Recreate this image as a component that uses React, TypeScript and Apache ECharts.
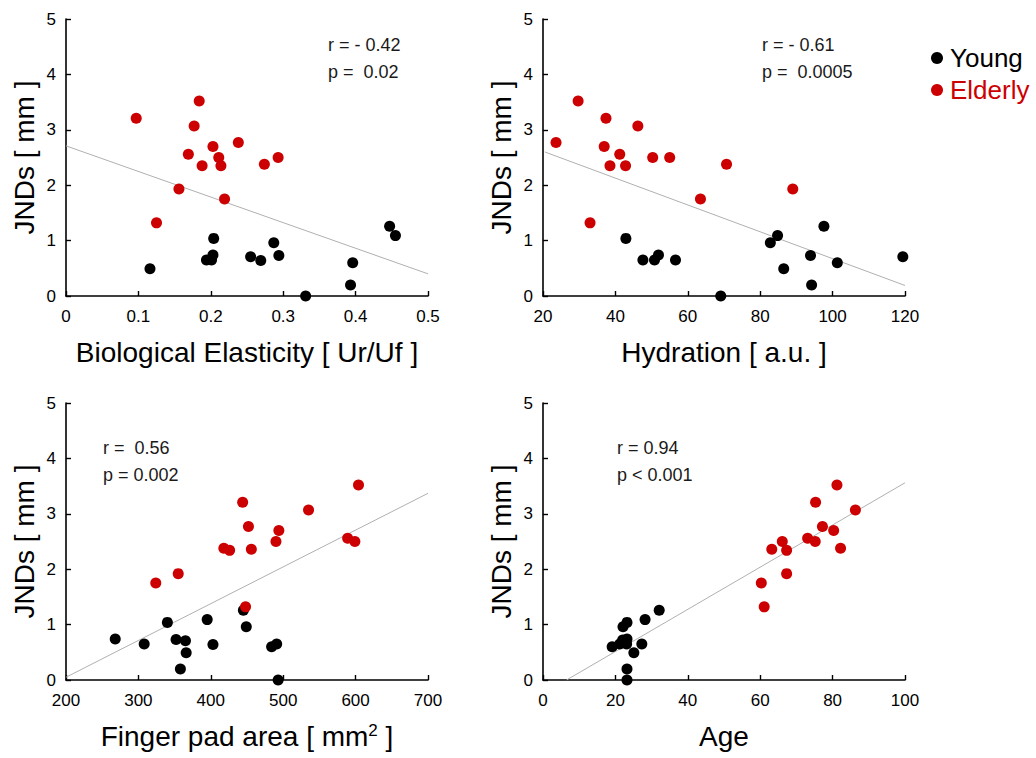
import React, { useEffect, useRef } from "react";
import * as echarts from "echarts";

const FONT = "'Liberation Sans', Helvetica, Arial, sans-serif";
const RED = "#cc0000";

// Panel 1: Biological Elasticity
const elasticityYoung = [[0.116,0.49],[0.194,0.65],[0.201,0.65],[0.203,0.74],[0.204,1.04],[0.255,0.71],[0.269,0.64],[0.287,0.96],[0.294,0.73],[0.331,0.0],[0.393,0.20],[0.396,0.60],[0.447,1.26],[0.455,1.09]];
const elasticityElderly = [[0.097,3.21],[0.184,3.52],[0.177,3.07],[0.125,1.32],[0.156,1.93],[0.169,2.56],[0.188,2.35],[0.203,2.70],[0.211,2.50],[0.214,2.35],[0.219,1.75],[0.238,2.77],[0.274,2.38],[0.293,2.50]];
const elasticityFit = [[0,2.71],[0.5,0.40]];

// Panel 2: Hydration
const hydrationYoung = [[42.9,1.04],[47.6,0.65],[50.8,0.65],[51.9,0.74],[56.6,0.65],[69.1,0.0],[82.8,0.96],[84.8,1.09],[86.5,0.49],[93.9,0.73],[94.2,0.20],[97.6,1.26],[101.3,0.60],[119.4,0.71]];
const hydrationElderly = [[23.6,2.77],[29.7,3.52],[33.0,1.32],[37.4,3.21],[36.9,2.70],[38.5,2.35],[41.2,2.56],[42.8,2.35],[46.2,3.07],[50.3,2.50],[55.0,2.50],[63.5,1.75],[70.7,2.38],[89.0,1.93]];
const hydrationFit = [[20.5,2.60],[120,0.19]];

// Panel 3: Finger pad area
const areaYoung = [[268,0.74],[308,0.65],[340,1.04],[352,0.73],[365,0.71],[366,0.49],[358,0.20],[395,1.09],[403,0.64],[445,1.26],[449,0.96],[484,0.60],[491,0.65],[493,0.0]];
const areaElderly = [[324,1.75],[355,1.92],[418,2.38],[426,2.34],[444,3.21],[452,2.77],[448,1.32],[456,2.36],[490,2.50],[494,2.70],[535,3.07],[589,2.56],[599,2.50],[604,3.52]];
const areaFit = [[200,0.05],[700,3.37]];

// Panel 4: Age
const ageYoung = [[19.1,0.60],[21.2,0.65],[22.0,0.72],[22.1,0.96],[23.2,1.04],[23.2,0.74],[23.1,0.65],[23.2,0.20],[23.2,0.0],[25.1,0.49],[27.3,0.65],[28.2,1.09],[32.1,1.26],[22.6,0.71]];
const ageElderly = [[60.3,1.75],[61.1,1.32],[63.2,2.36],[66.1,2.50],[67.3,2.34],[67.3,1.92],[73.1,2.56],[75.3,3.21],[75.2,2.50],[77.2,2.77],[80.3,2.70],[81.2,3.52],[82.2,2.38],[86.3,3.07]];
const ageFit = [[6.5,0],[100,3.56]];

const xNames = ["Biological Elasticity [ Ur/Uf ]", "Hydration [ a.u. ]", "Finger pad area [ mm{sup|2} ]", "Age"];
const xRanges = [[0, 0.5, 0.1], [20, 120, 20], [200, 700, 100], [0, 100, 20]];
const yName = "JNDs [ mm ]";
const statsR = ["r = - 0.42", "r = - 0.61", "r =  0.56", "r = 0.94"];
const statsP = ["p =  0.02", "p =  0.0005", "p = 0.002", "p < 0.001"];
const legendNames = ["Young", "Elderly"];

const grids = [
  { left: 66, top: 19, width: 362, height: 277 },
  { left: 543, top: 19, width: 362, height: 277 },
  { left: 66, top: 403, width: 362, height: 277 },
  { left: 543, top: 403, width: 362, height: 277 },
];
const statPos = [[328, 46], [762, 46], [103, 449], [617, 449]];

export default function App() {
  const ref = useRef<HTMLDivElement>(null);
  useEffect(() => {
    if (!ref.current) return;
    const chart = echarts.init(ref.current, null, { renderer: "svg" });
    const young = [elasticityYoung, hydrationYoung, areaYoung, ageYoung];
    const elderly = [elasticityElderly, hydrationElderly, areaElderly, ageElderly];
    const fits = [elasticityFit, hydrationFit, areaFit, ageFit];
    const axisLine = { show: true, onZero: false, lineStyle: { color: "#000", width: 1.6 } };
    const axisTick = { show: true, inside: true, length: 5, lineStyle: { color: "#000", width: 1.4 } };
    const series: any[] = [];
    for (let i = 0; i < 4; i++) {
      series.push({
        type: "line", xAxisIndex: i, yAxisIndex: i, data: fits[i], symbol: "none",
        lineStyle: { color: "#b0b0b0", width: 1 }, silent: true, z: 1,
      });
      series.push({
        name: legendNames[0], type: "scatter", xAxisIndex: i, yAxisIndex: i, data: young[i],
        symbolSize: 11, itemStyle: { color: "#000", opacity: 1 }, z: 3, clip: false,
      });
      series.push({
        name: legendNames[1], type: "scatter", xAxisIndex: i, yAxisIndex: i, data: elderly[i],
        symbolSize: 11, itemStyle: { color: RED, opacity: 1 }, z: 3, clip: false,
      });
    }
    const graphic: any[] = [];
    for (let i = 0; i < 4; i++) {
      graphic.push({ type: "text", left: statPos[i][0], top: statPos[i][1] - 10, style: { text: statsR[i], font: `18px ${FONT}`, fill: "#1a1a1a" } });
      graphic.push({ type: "text", left: statPos[i][0], top: statPos[i][1] + 17, style: { text: statsP[i], font: `18px ${FONT}`, fill: "#1a1a1a" } });
    }
    chart.setOption({
      animation: false,
      textStyle: { fontFamily: FONT },
      grid: grids,
      legend: {
        orient: "vertical", left: 926, top: 40, itemWidth: 12, itemHeight: 12, itemGap: 6,
        icon: "circle", selectedMode: false,
        textStyle: { fontSize: 26, fontFamily: FONT, padding: [0, 0, 0, 2] },
        data: [
          { name: legendNames[0], textStyle: { color: "#000" } },
          { name: legendNames[1], textStyle: { color: RED } },
        ],
      },
      xAxis: xRanges.map((r, i) => ({
        type: "value", gridIndex: i, min: r[0], max: r[1], interval: r[2],
        name: xNames[i], nameLocation: "middle", nameGap: 42,
        nameTextStyle: { fontSize: 28, color: "#000", fontFamily: FONT,
          rich: { sup: { fontSize: 17, verticalAlign: "top", padding: [0, 0, 12, 0], color: "#000", fontFamily: FONT } } },
        axisLine, axisTick, splitLine: { show: false },
        axisLabel: { fontSize: 17, color: "#000", margin: 12, fontFamily: FONT },
      })),
      yAxis: grids.map((g, i) => ({
        type: "value", gridIndex: i, min: 0, max: 5, interval: 1,
        name: yName, nameLocation: "middle", nameGap: 28,
        nameTextStyle: { fontSize: 28, color: "#000", fontFamily: FONT },
        axisLine, axisTick, splitLine: { show: false },
        axisLabel: { fontSize: 17, color: "#000", margin: 10, fontFamily: FONT },
      })),
      graphic,
      series,
    });
    return () => chart.dispose();
  }, []);
  return <div ref={ref} style={{ position: "absolute", left: 0, top: 0, width: 1036, height: 758 }} />;
}
